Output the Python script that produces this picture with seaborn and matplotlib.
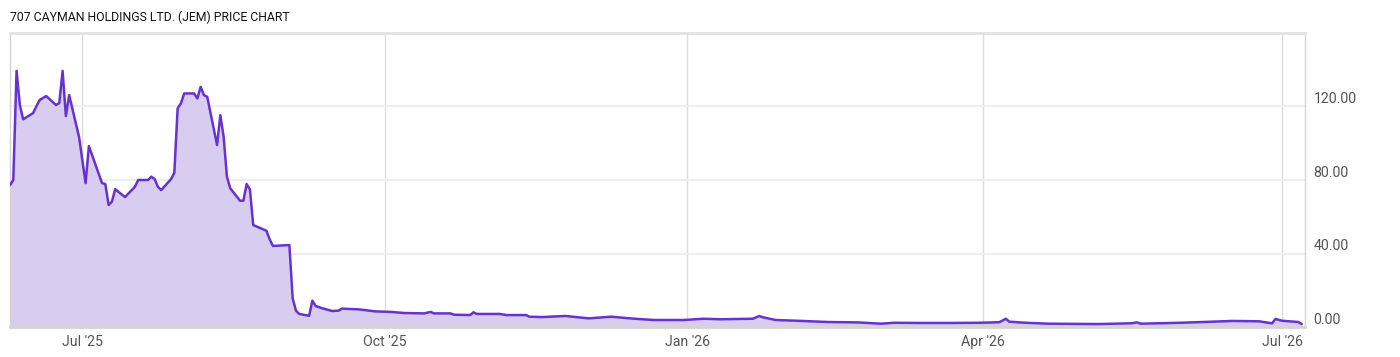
import matplotlib
matplotlib.use("Agg")
import matplotlib.pyplot as plt
import matplotlib.dates as mdates
import matplotlib.ticker as mticker
import seaborn as sns
import pandas as pd

title = "707 CAYMAN HOLDINGS LTD. (JEM) PRICE CHART"

dates = [
    "2025-06-09", "2025-06-10", "2025-06-11", "2025-06-12", "2025-06-13", "2025-06-16",
    "2025-06-18", "2025-06-20", "2025-06-23", "2025-06-24", "2025-06-25", "2025-06-26",
    "2025-06-27", "2025-06-30", "2025-07-02", "2025-07-03", "2025-07-07", "2025-07-08",
    "2025-07-09", "2025-07-10", "2025-07-11", "2025-07-14", "2025-07-17", "2025-07-18",
    "2025-07-21", "2025-07-22", "2025-07-23", "2025-07-24", "2025-07-25", "2025-07-28",
    "2025-07-29", "2025-07-30", "2025-07-31", "2025-08-01", "2025-08-04", "2025-08-05",
    "2025-08-06", "2025-08-07", "2025-08-08", "2025-08-11", "2025-08-12", "2025-08-13",
    "2025-08-14", "2025-08-15", "2025-08-18", "2025-08-19", "2025-08-20", "2025-08-21",
    "2025-08-22", "2025-08-26", "2025-08-27", "2025-08-28", "2025-09-02", "2025-09-03",
    "2025-09-04", "2025-09-05", "2025-09-08", "2025-09-09", "2025-09-10", "2025-09-12",
    "2025-09-15", "2025-09-17", "2025-09-18", "2025-09-23", "2025-09-25", "2025-09-28",
    "2025-10-03", "2025-10-07", "2025-10-13", "2025-10-15", "2025-10-16", "2025-10-21",
    "2025-10-22", "2025-10-27", "2025-10-28", "2025-10-29", "2025-11-05", "2025-11-07",
    "2025-11-13", "2025-11-14", "2025-11-18", "2025-11-25", "2025-12-02", "2025-12-09",
    "2025-12-16", "2025-12-22", "2025-12-31", "2026-01-06", "2026-01-11", "2026-01-21",
    "2026-01-23", "2026-01-24", "2026-01-28", "2026-02-05", "2026-02-13", "2026-02-22",
    "2026-03-01", "2026-03-05", "2026-03-12", "2026-03-22", "2026-03-31", "2026-04-06",
    "2026-04-08", "2026-04-09", "2026-04-14", "2026-04-21", "2026-05-06", "2026-05-16",
    "2026-05-18", "2026-05-19", "2026-05-31", "2026-06-10", "2026-06-16", "2026-06-24",
    "2026-06-28", "2026-06-29", "2026-07-01", "2026-07-06", "2026-07-07",
]

prices = [
    77.2, 80.0, 139.4, 120.8, 113.0, 116.4,
    123.5, 125.7, 120.8, 121.9, 139.4, 114.8,
    126.2, 103.5, 78.3, 98.5, 78.3, 77.8,
    66.4, 68.2, 75.0, 70.7, 76.3, 80.0,
    80.0, 81.8, 80.5, 76.3, 74.5, 80.5,
    83.9, 119.0, 121.7, 127.1, 127.1, 124.4,
    130.7, 126.2, 125.3, 99.0, 115.3, 103.5,
    81.8, 75.5, 68.7, 68.7, 77.8, 74.9,
    55.5, 52.4, 47.7, 44.1, 44.6, 15.6,
    8.9, 7.1, 6.1, 14.3, 11.4, 10.2,
    8.7, 8.9, 10.0, 9.6, 9.2, 8.5,
    8.2, 7.6, 7.4, 8.2, 7.4, 7.4,
    6.7, 6.5, 8.0, 7.1, 7.1, 6.5,
    6.5, 5.6, 5.4, 6.0, 4.7, 5.6,
    4.5, 3.8, 3.8, 4.5, 4.2, 4.5,
    6.0, 5.3, 3.8, 3.3, 2.7, 2.5,
    1.8, 2.3, 2.2, 2.2, 2.3, 2.6,
    4.5, 2.9, 2.3, 1.8, 1.6, 2.0,
    2.5, 1.8, 2.3, 2.9, 3.3, 3.1,
    2.0, 4.4, 3.4, 2.7, 1.6,
]

y_ticks = [0, 40, 80, 120]
x_tick_dates = ["2025-07-01", "2025-10-01", "2026-01-01", "2026-04-01", "2026-07-01"]
x_tick_labels = ["Jul '25", "Oct '25", "Jan '26", "Apr '26", "Jul '26"]

df = pd.DataFrame({"date": pd.to_datetime(dates), "price": prices})

sns.set_theme(style="white")
plt.rcParams["font.family"] = ["Roboto", "DejaVu Sans"]

W, H = 1400, 357
fig = plt.figure(figsize=(W / 100, H / 100), dpi=100)
ax = fig.add_axes([10 / W, (H - 327) / H, 1295 / W, 294 / H])

line_color = "#6633cc"
fill_color = "#d8ccf0"

ax.fill_between(df["date"], df["price"], 0, color=fill_color, linewidth=0, zorder=2)
sns.lineplot(data=df, x="date", y="price", ax=ax, color=line_color, linewidth=1.8, zorder=3)

ax.set_xlim(pd.Timestamp("2025-06-09"), pd.Timestamp("2026-07-08"))
ax.set_ylim(0, 160)

ax.set_xticks(pd.to_datetime(x_tick_dates))
ax.set_xticklabels(x_tick_labels)
ax.set_yticks(y_ticks)
ax.yaxis.set_major_formatter(mticker.FuncFormatter(lambda v, p: f"{v:.2f}"))
ax.yaxis.tick_right()

ax.grid(False)
for d in pd.to_datetime(x_tick_dates):
    ax.axvline(d, color="#dddddd", linewidth=1, zorder=1)
for v in y_ticks[1:]:
    ax.axhline(v, color="#eeeeee", linewidth=1.5, zorder=1)

ax.tick_params(axis="x", length=0, pad=6, labelsize=10.2, labelcolor="#555555")
ax.tick_params(axis="y", length=0, pad=6, labelsize=10.2, labelcolor="#555555")
for t in ax.get_yticklabels():
    t.set_va("bottom")

ax.set_xlabel("")
ax.set_ylabel("")

for name, sp in ax.spines.items():
    sp.set_visible(True)
    sp.set_color("#d4d4d4")
    sp.set_linewidth(1.0)
ax.spines["top"].set_linewidth(2.0)
ax.spines["top"].set_color("#e2e2e2")
ax.spines["bottom"].set_linewidth(2.0)

fig.text(10 / W, 1 - 17 / H, title, fontsize=8.8, color="#111111", va="center", ha="left")

fig.savefig("out.png", dpi=100)
